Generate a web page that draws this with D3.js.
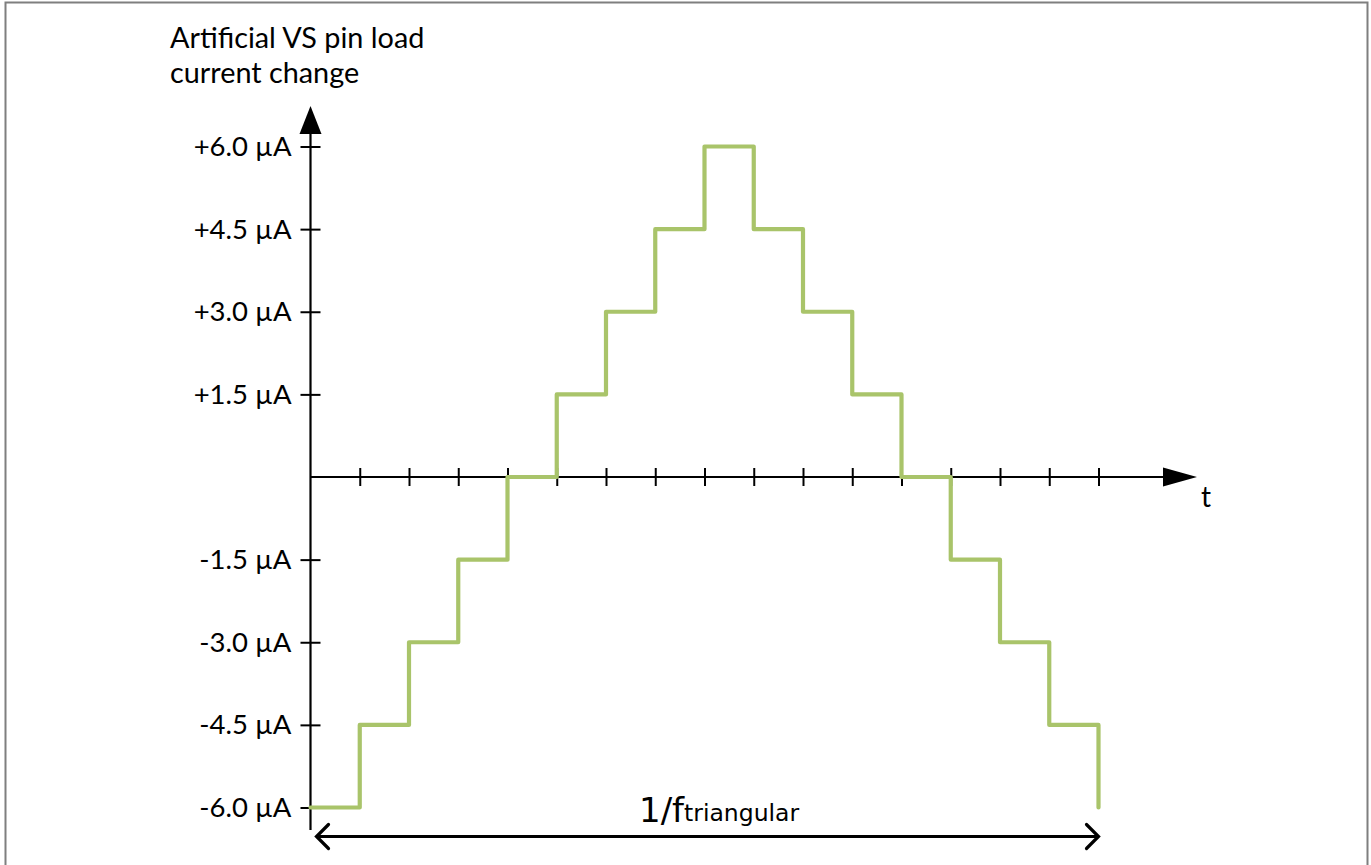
<!DOCTYPE html>
<html>
<head>
<meta charset="utf-8">
<script src="https://cdn.jsdelivr.net/npm/d3@7"></script>
<style>
  html, body { margin: 0; padding: 0; background: #fff; }
  svg { display: block; }
</style>
</head>
<body>
<svg id="chart" width="1371" height="865"></svg>
<script>
// ---- data ----
const timeSteps = [0,1,2,3,4,5,6,7,8,9,10,11,12,13,14,15,16];
const currentValues = [-6,-4.5,-3,-1.5,0,1.5,3,4.5,6,4.5,3,1.5,0,-1.5,-3,-4.5,-6];
const yTickValues = [6,4.5,3,1.5,-1.5,-3,-4.5,-6];
const yTickLabels = ["+6.0 µA","+4.5 µA","+3.0 µA","+1.5 µA","-1.5 µA","-3.0 µA","-4.5 µA","-6.0 µA"];
const xTickValues = [1,2,3,4,5,6,7,8,9,10,11,12,13,14,15,16];
const titleLines = ["Artificial VS pin load","current change"];
const xAxisLabel = "t";
const periodLabel = "1/f";
const periodSub = "triangular";

const svg = d3.select("#chart");
const x = d3.scaleLinear().domain([0,16]).range([310.5, 1098.5]);
const y = d3.scaleLinear().domain([-6,6]).range([807.5, 146.5]);
const font = "Lato, 'Liberation Sans', sans-serif";

// frame
svg.append("path")
  .attr("d", "M5.5,866 L5.5,2.5 L1367.5,2.5 L1367.5,866")
  .attr("fill","none").attr("stroke","#7f7f7f").attr("stroke-width",2);

// title
svg.append("text").attr("font-family", font).attr("font-size", 28.8).attr("fill","#000")
  .selectAll("tspan").data(titleLines).join("tspan")
  .attr("x", 170).attr("y", (d,i) => 48 + i*35).text(d => d);

// y axis
const yAxis = d3.axisLeft(y).tickValues(yTickValues)
  .tickFormat((d,i) => yTickLabels[i]).tickSize(0).tickPadding(19);
const gy = svg.append("g").attr("transform", `translate(${x(0)},0)`).call(yAxis);
gy.select(".domain").remove();
gy.selectAll(".tick line").attr("x1",-10).attr("x2",10).attr("stroke","#000").attr("stroke-width",2);
gy.selectAll(".tick text").attr("font-family", font).attr("font-size", 27.5).attr("fill","#000").attr("dy","0.33em");
gy.append("line").attr("x1",0).attr("x2",0).attr("y1",830).attr("y2",130)
  .attr("stroke","#000").attr("stroke-width",2.2);
gy.append("path").attr("d","M0,106 L-11,134 L11,134 Z").attr("fill","#000");

// x axis
const xAxis = d3.axisBottom(x).tickValues(xTickValues).tickSize(0).tickFormat("");
const gx = svg.append("g").attr("transform", `translate(0,${y(0)})`).call(xAxis);
gx.select(".domain").remove();
gx.selectAll(".tick line").attr("y1",-9).attr("y2",9).attr("stroke","#000").attr("stroke-width",2);
gx.append("line").attr("x1",x(0)).attr("x2",1170).attr("y1",0).attr("y2",0)
  .attr("stroke","#000").attr("stroke-width",2.2);
gx.append("path").attr("d","M1197,0 L1163,-9.5 L1163,9.5 Z").attr("fill","#000");
svg.append("text").attr("x",1201).attr("y",507).attr("font-family",font).attr("font-size",28)
  .attr("fill","#000").text(xAxisLabel);

// step signal
const line = d3.line().x((d,i) => x(timeSteps[i])).y(d => y(d)).curve(d3.curveStepAfter);
svg.append("path").datum(currentValues).attr("d", line)
  .attr("fill","none").attr("stroke","#a9c46a").attr("stroke-width",4.2)
  .attr("stroke-linejoin","round").attr("stroke-linecap","round");

// period dimension arrow
const py = 836.5;
svg.append("line").attr("x1",x(0)+6).attr("x2",x(16)).attr("y1",py).attr("y2",py)
  .attr("stroke","#000").attr("stroke-width",3);
svg.append("path").attr("d",`M${x(0)+18},${py-12} L${x(0)+6},${py} L${x(0)+18},${py+12}`)
  .attr("fill","none").attr("stroke","#000").attr("stroke-width",3.2).attr("stroke-linecap","round");
svg.append("path").attr("d",`M${x(16)-12},${py-12} L${x(16)},${py} L${x(16)-12},${py+12}`)
  .attr("fill","none").attr("stroke","#000").attr("stroke-width",3.2).attr("stroke-linecap","round");
const pt = svg.append("text").attr("x",639).attr("y",822).attr("font-family","'DejaVu Sans', sans-serif").attr("fill","#000");
pt.append("tspan").attr("font-size",34).text(periodLabel);
pt.append("tspan").attr("font-size",23.5).attr("dy",-1).text(periodSub);
</script>
</body>
</html>
